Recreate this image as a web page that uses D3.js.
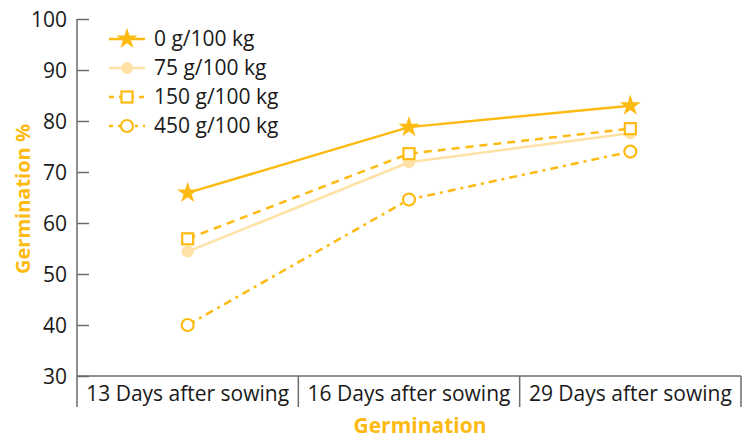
<!DOCTYPE html>
<html>
<head>
<meta charset="utf-8">
<script src="https://cdn.jsdelivr.net/npm/d3@7"></script>
<style>
  body { margin: 0; background: #fff; }
  text { font-family: "Open Sans", Lato, sans-serif; }
</style>
</head>
<body>
<div id="chart"></div>
<script>
// data
var categories = ["13 Days after sowing", "16 Days after sowing", "29 Days after sowing"];
var seriesNames = ["0 g/100 kg", "75 g/100 kg", "150 g/100 kg", "450 g/100 kg"];
var dose0 = [65.9, 78.8, 83.0];
var dose75 = [54.4, 71.9, 77.6];
var dose150 = [56.9, 73.6, 78.5];
var dose450 = [40.0, 64.6, 74.0];
var yTicks = [30, 40, 50, 60, 70, 80, 90, 100];

var gold = "#FDBA12", light = "#FFE1A6", axisGray = "#6b6b6b";

var series = [
    { name: seriesNames[0], values: dose0, color: gold, dash: null, symbol: "star" },
    { name: seriesNames[1], values: dose75, color: light, dash: null, symbol: "dot" },
    { name: seriesNames[2], values: dose150, color: gold, dash: "8,6", symbol: "square" },
    { name: seriesNames[3], values: dose450, color: gold, dash: "8,5,3,5", symbol: "ring" }
];

const W = 747, H = 439;
const plotLeft = 77, plotRight = 741, plotTop = 19, plotBottom = 376;

const svg = d3.select("#chart").append("svg")
    .attr("width", W)
    .attr("height", H);

const x = d3.scaleBand()
    .domain(categories)
    .range([plotLeft, plotRight]);

const y = d3.scaleLinear()
    .domain([30, 100])
    .range([plotBottom, plotTop]);

// y axis
const yAxis = svg.append("g")
    .attr("transform", `translate(${plotLeft},0)`)
    .call(d3.axisRight(y).tickValues(yTicks).tickSize(12).tickFormat(d3.format("d")));
yAxis.select(".domain").remove();
yAxis.selectAll(".tick line").attr("stroke", axisGray).attr("stroke-width", 1.5);
yAxis.selectAll(".tick text")
    .attr("x", -10)
    .attr("dy", "0.36em")
    .attr("text-anchor", "end")
    .attr("fill", "#1a1a1a")
    .attr("font-size", 21);

svg.append("line")
    .attr("x1", plotLeft).attr("x2", plotLeft)
    .attr("y1", plotTop).attr("y2", 407)
    .attr("stroke", axisGray).attr("stroke-width", 1.5);

// x axis
svg.append("line")
    .attr("x1", plotLeft).attr("x2", plotRight)
    .attr("y1", plotBottom).attr("y2", plotBottom)
    .attr("stroke", axisGray).attr("stroke-width", 1.5);

categories.forEach(c => {
    svg.append("line")
        .attr("x1", x(c) + x.bandwidth()).attr("x2", x(c) + x.bandwidth())
        .attr("y1", plotBottom).attr("y2", 407)
        .attr("stroke", axisGray).attr("stroke-width", 1.5);
    svg.append("text")
        .attr("x", x(c) + x.bandwidth() / 2)
        .attr("y", 401)
        .attr("text-anchor", "middle")
        .attr("fill", "#1a1a1a")
        .attr("font-size", 21)
        .text(c);
});

// titles
svg.append("text")
    .attr("x", 420).attr("y", 433)
    .attr("text-anchor", "middle")
    .attr("fill", gold)
    .attr("font-weight", "bold")
    .attr("font-size", 21)
    .text("Germination");

svg.append("text")
    .attr("transform", "translate(30,199) rotate(-90)")
    .attr("text-anchor", "middle")
    .attr("fill", gold)
    .attr("font-weight", "bold")
    .attr("font-size", 20)
    .text("Germination %");

function drawSymbol(g, s, cx, cy) {
    if (s.symbol === "star") {
        g.append("path")
            .attr("d", d3.symbol(d3.symbolStar, 140)())
            .attr("transform", `translate(${cx},${cy})`)
            .attr("fill", s.color);
    } else if (s.symbol === "dot") {
        g.append("circle").attr("cx", cx).attr("cy", cy).attr("r", 6).attr("fill", s.color);
    } else if (s.symbol === "square") {
        g.append("rect").attr("x", cx - 5.5).attr("y", cy - 5.5)
            .attr("width", 11).attr("height", 11)
            .attr("fill", "#fff").attr("stroke", s.color).attr("stroke-width", 2.2);
    } else {
        g.append("circle").attr("cx", cx).attr("cy", cy).attr("r", 6)
            .attr("fill", "#fff").attr("stroke", s.color).attr("stroke-width", 2.2);
    }
}

const line = d3.line()
    .x((d, i) => x(categories[i]) + x.bandwidth() / 2)
    .y(d => y(d));

// draw light series first so others sit on top
[1, 3, 2, 0].forEach(k => {
    const s = series[k];
    const g = svg.append("g");
    g.append("path")
        .datum(s.values)
        .attr("fill", "none")
        .attr("stroke", s.color)
        .attr("stroke-width", 2.5)
        .attr("stroke-dasharray", s.dash)
        .attr("d", line);
    s.values.forEach((v, i) => drawSymbol(g, s, x(categories[i]) + x.bandwidth() / 2, y(v)));
});

// legend
const legend = svg.append("g");
series.forEach((s, i) => {
    const ly = 39 + i * 29;
    legend.append("line")
        .attr("x1", 109).attr("x2", 145)
        .attr("y1", ly).attr("y2", ly)
        .attr("stroke", s.color)
        .attr("stroke-width", 2.5)
        .attr("stroke-dasharray", s.dash ? (s.symbol === "square" ? "5,5" : "4,5,3,5") : null);
    drawSymbol(legend, s, 127, ly);
    legend.append("text")
        .attr("x", 154)
        .attr("y", ly + 7)
        .attr("fill", "#1a1a1a")
        .attr("font-size", 21)
        .text(s.name);
});
</script>
</body>
</html>
